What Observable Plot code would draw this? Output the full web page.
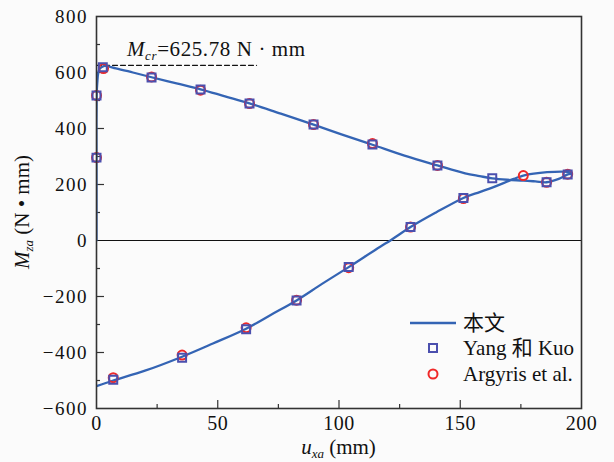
<!DOCTYPE html>
<html><head><meta charset="utf-8">
<script src="https://cdn.jsdelivr.net/npm/d3@7"></script>
<script src="https://cdn.jsdelivr.net/npm/@observablehq/plot@0.6"></script>
<style>
html,body{margin:0;padding:0;background:#fbfbfb;}
#chart svg{display:block;}
</style></head><body><div id="chart"></div>
<script>
// Present method (本文) continuous equilibrium path: u_xa (mm) vs M_za (N·mm)
const curveU = [0, 0, 0, 0, 0.3, 1.2, 3, 8, 15, 22.7, 33, 42.9, 53, 63.1, 76, 89.5, 101, 113.8, 127, 140.6, 152, 158, 163.2, 169.3, 176, 181, 185.6, 190.6, 194.3, 196.1, 194.3, 185.8, 176, 172.1, 163.2, 158, 151.3, 140, 129.5, 121.2, 117, 104, 93, 82.5, 72, 61.7, 48, 35.3, 20, 6.9, 0];
const curveM = [0, 150, 300, 450, 560, 612, 623, 615, 600, 583, 561, 540, 515, 490, 453, 414, 379, 342, 303, 268, 240, 230, 222, 217, 214, 211, 208, 220, 236, 240, 245, 244, 232, 220, 189, 173, 152, 100, 48, 0, -22, -95, -155, -214, -265, -315, -368, -415, -465, -500, -520];
// Yang 和 Kuo
const yangU = [0, 0, 2.6, 22.7, 42.9, 63.1, 89.5, 113.8, 140.6, 163.2, 185.6, 194.3, 151.3, 129.5, 104, 82.5, 61.7, 35.3, 6.9];
const yangM = [296, 518, 619, 582, 539, 489, 414, 343, 268, 222, 208, 236, 152, 48, -95, -214, -317, -419, -497];
// Argyris et al.
const argU = [0, 0, 2.9, 22.7, 42.9, 63.1, 89.5, 113.8, 140.6, 176, 185.6, 194.3, 151.3, 129.5, 104, 82.5, 61.7, 35.3, 6.9];
const argM = [296, 518, 614, 584, 537, 489, 414, 346, 268, 232, 208, 237, 150, 48, -97, -213, -312, -409, -490];
// critical moment line
const mcrU = [0, 66];
const mcrM = [625.78, 625.78];
// ticks
const xLabels = [0, 50, 100, 150, 200];
const xMajor = [50, 100, 150];
const xMinor = [25, 75, 125, 175];
const yLabels = [-600, -400, -200, 0, 200, 400, 600, 800];
const yMajor = [-400, -200, 200, 400, 600];
const yMinor = [-500, -300, -100, 100, 300, 500, 700];

const zip = (us, ms) => us.map((u, i) => ({u, M: ms[i]}));
const curve = zip(curveU, curveM);
const yang = zip(yangU, yangM);
const arg = zip(argU, argM);
const mcr = zip(mcrU, mcrM);

const blue = "#3464b4", sq = "#4b4fae", red = "#f02828", ax = "#333";
const ff = '"Liberation Serif","Times New Roman",serif';
const cjk = '"Noto Sans CJK SC","Noto Sans CJK JP",sans-serif';

const plot = Plot.plot({
  width: 614, height: 462,
  marginLeft: 96, marginRight: 33, marginTop: 16, marginBottom: 54,
  style: {background: "#fbfbfb", fontFamily: ff},
  x: {domain: [0, 200]},
  y: {domain: [-600, 800]},
  marks: [
    Plot.axisX(xLabels, {tickSize: 0, tickPadding: 7, fontSize: 20, label: null, fill: "#111"}),
    Plot.axisY(yLabels, {tickSize: 0, tickPadding: 8.5, fontSize: 19, label: null, fill: "#111"}),
    Plot.axisX(xMajor, {tickSize: 8, dy: -8, fill: "none", label: null, stroke: ax, strokeWidth: 1.2}),
    Plot.axisX(xMinor, {tickSize: 4, dy: -4, fill: "none", label: null, stroke: ax, strokeWidth: 1.2}),
    Plot.axisY(yMajor, {tickSize: 8, dx: 8, fill: "none", label: null, stroke: ax, strokeWidth: 1.2}),
    Plot.axisY(yMinor, {tickSize: 4, dx: 4, fill: "none", label: null, stroke: ax, strokeWidth: 1.2}),
    Plot.ruleY([0], {stroke: "#111", strokeWidth: 1.2}),
    Plot.line(mcr, {x: "u", y: "M", stroke: "#111", strokeWidth: 1.2, strokeDasharray: "5,3"}),
    Plot.line(curve, {x: "u", y: "M", curve: "catmull-rom", stroke: blue, strokeWidth: 2.3, clip: true}),
    Plot.dot(arg, {x: "u", y: "M", symbol: "circle", r: 4.5, stroke: red, strokeWidth: 2, fill: "none"}),
    Plot.dot(yang, {x: "u", y: "M", symbol: "square", r: 4.5, stroke: sq, strokeWidth: 2, fill: "none"}),
    Plot.frame({stroke: ax, strokeWidth: 1.6})
  ]
});
document.getElementById("chart").appendChild(plot);

const sx = plot.scale("x"), sy = plot.scale("y");
const svg = d3.select(plot);
svg.selectAll('g[aria-label="y-axis tick label"]').attr("letter-spacing", 1.5);
svg.selectAll('g[aria-label="x-axis tick label"]').attr("letter-spacing", 0.5);

function label(sel) {
  return sel.attr("font-size", 21).attr("font-family", ff).attr("fill", "#111");
}

// Mcr annotation
const t1 = label(svg.append("text")).attr("text-anchor", "start").attr("letter-spacing", 0.6)
  .attr("x", sx.apply(mcrU[0]) + 31).attr("y", sy.apply(mcrM[0]) - 9);
t1.append("tspan").attr("font-style", "italic").text("M");
t1.append("tspan").attr("font-style", "italic").attr("font-size", 13).attr("dy", 4).text("cr");
t1.append("tspan").attr("dy", -4).text("=625.78 N · mm");

// y-axis label
const cy = (sy.apply(800) + sy.apply(-600)) / 2;
const t2 = label(svg.append("text")).attr("text-anchor", "middle")
  .attr("transform", `translate(29,${cy}) rotate(-90)`);
t2.append("tspan").attr("font-style", "italic").text("M");
t2.append("tspan").attr("font-style", "italic").attr("font-size", 13).attr("dy", 4).text("za");
t2.append("tspan").attr("dy", -4).text(" (N • mm)");

// x-axis label
const cx = (sx.apply(0) + sx.apply(200)) / 2;
const t3 = label(svg.append("text")).attr("text-anchor", "middle").attr("x", cx).attr("y", 454);
t3.append("tspan").attr("font-style", "italic").text("u");
t3.append("tspan").attr("font-style", "italic").attr("font-size", 13).attr("dy", 4).text("xa");
t3.append("tspan").attr("dy", -4).text(" (mm)");

// legend
const lg = svg.append("g");
lg.append("line").attr("x1", 410).attr("x2", 456).attr("y1", 323).attr("y2", 323).attr("stroke", blue).attr("stroke-width", 2.3);
const l1 = label(lg.append("text")).attr("text-anchor", "start").attr("x", 463).attr("y", 323).attr("dy", "0.35em");
l1.append("tspan").attr("font-family", cjk).text("本文");
lg.append("rect").attr("x", 433 - 4).attr("y", 348 - 4).attr("width", 8).attr("height", 8).attr("fill", "none").attr("stroke", sq).attr("stroke-width", 2);
const l2 = label(lg.append("text")).attr("text-anchor", "start").attr("x", 463).attr("y", 348).attr("dy", "0.35em");
l2.append("tspan").text("Yang ");
l2.append("tspan").attr("font-family", cjk).text("和");
l2.append("tspan").text(" Kuo");
lg.append("circle").attr("cx", 433).attr("cy", 374).attr("r", 4.5).attr("fill", "none").attr("stroke", red).attr("stroke-width", 2);
label(lg.append("text")).attr("text-anchor", "start").attr("x", 463).attr("y", 374).attr("dy", "0.35em").text("Argyris et al.");
</script></body></html>
